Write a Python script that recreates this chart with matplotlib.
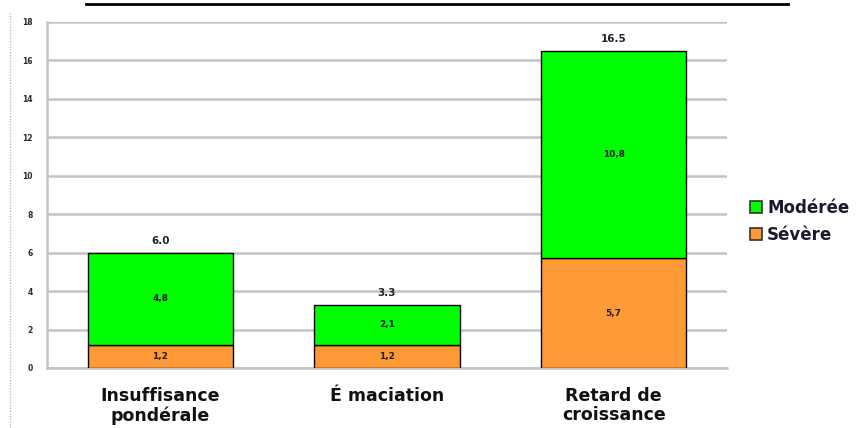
import matplotlib
matplotlib.use("Agg")
import matplotlib.pyplot as plt
from matplotlib.patches import Patch
from matplotlib.lines import Line2D

categories = ["Insuffisance\npondérale", "É maciation", "Retard de\ncroissance"]
severe = [1.2, 1.2, 5.7]
moderee = [4.8, 2.1, 10.8]
totals = [6.0, 3.3, 16.5]
yticks = [0, 2, 4, 6, 8, 10, 12, 14, 16, 18]

green = "#00ff00"
orange = "#fd9a35"

fig = plt.figure(figsize=(8.67, 4.28), dpi=100)
ax = fig.add_axes([0.0542, 0.1402, 0.7843, 0.8084])

x = list(range(len(categories)))
w = 0.64
ax.bar(x, severe, width=w, color=orange, edgecolor="black", linewidth=1.0, zorder=3)
ax.bar(x, moderee, width=w, bottom=severe, color=green, edgecolor="black",
       linewidth=1.0, zorder=3)

for xi, s, m, t in zip(x, severe, moderee, totals):
    ax.text(xi, s / 2, f"{s:.1f}".replace(".", ","), ha="center", va="center",
            fontsize=6.5, fontweight="bold", color="#202020", zorder=4)
    ax.text(xi, s + m / 2, f"{m:.1f}".replace(".", ","), ha="center", va="center",
            fontsize=6.5, fontweight="bold", color="#202020", zorder=4)
    ax.text(xi, t + 0.35, f"{t:.1f}", ha="center", va="bottom",
            fontsize=7.5, fontweight="bold", color="#1c2433", zorder=4)

ax.set_xlim(-0.5, 2.5)
ax.set_ylim(0, 18)
ax.set_yticks(yticks)
ax.set_yticklabels([str(v) for v in yticks], fontsize=5.5, fontweight="bold",
                   color="#2a2a2a")
ax.set_xticks(x)
ax.set_xticklabels(categories, fontsize=12.5, fontweight="bold", color="#111111",
                   linespacing=1.05)
ax.tick_params(axis="both", length=0)
ax.tick_params(axis="y", pad=10)
ax.tick_params(axis="x", pad=14)

ax.yaxis.grid(True, color="#c4c4c4", linewidth=1.8, zorder=1)
for sp in ["top", "right"]:
    ax.spines[sp].set_visible(False)
ax.spines["left"].set_color("#c4c4c4")
ax.spines["left"].set_linewidth(1.8)
ax.spines["bottom"].set_color("#c4c4c4")
ax.spines["bottom"].set_linewidth(1.8)

handles = [Patch(facecolor=green, edgecolor="#333333", linewidth=1.2),
           Patch(facecolor=orange, edgecolor="#333333", linewidth=1.2)]
fig.legend(handles, ["Modérée", "Sévère"], loc="center left",
           bbox_to_anchor=(0.855, 0.483), frameon=False,
           prop={"size": 12, "weight": "bold"}, labelcolor="#1a1a30",
           handlelength=0.75, handleheight=0.75, handletextpad=0.3,
           labelspacing=0.55, borderpad=0)

# Top rule and dotted left border
fig.add_artist(Line2D([0.099, 0.909], [0.991, 0.991], color="black",
                      linewidth=2.0, transform=fig.transFigure))
fig.add_artist(Line2D([0.011, 0.011], [0.0, 0.975], color="#bbbbbb",
                      linewidth=1.0, linestyle=(0, (1, 1)),
                      transform=fig.transFigure))

fig.savefig("out.png", dpi=100, facecolor="white")
